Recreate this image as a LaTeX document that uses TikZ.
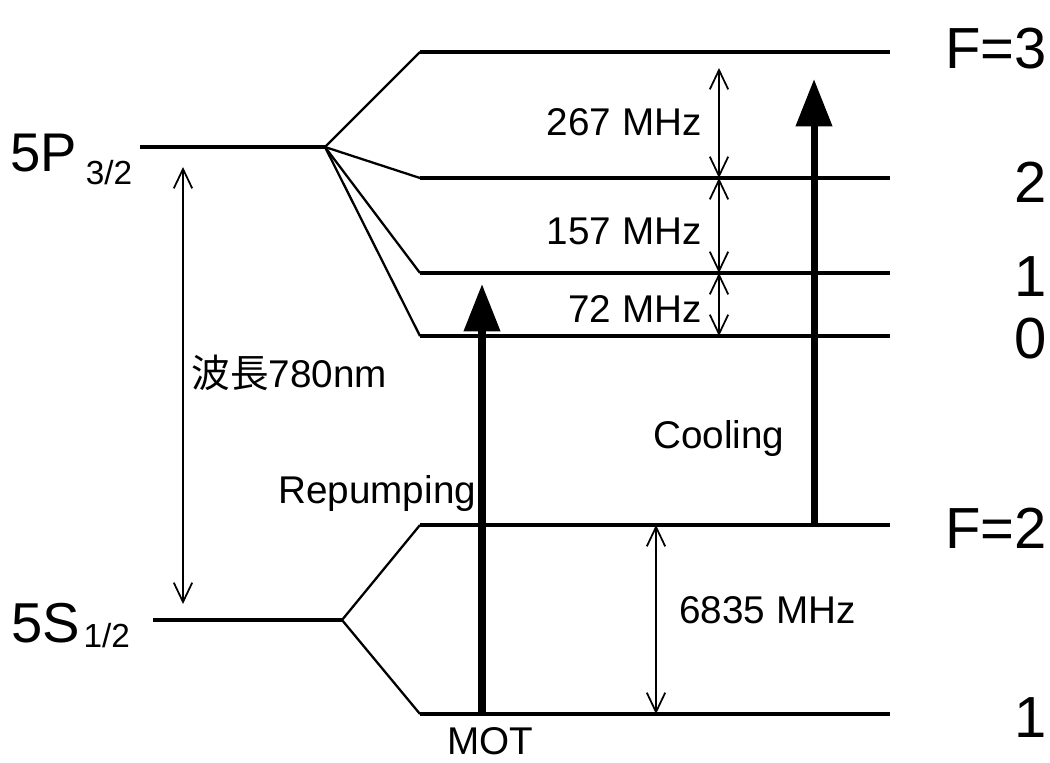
\documentclass[tikz,border=0pt]{standalone}
\usepackage{fontspec}
\setmainfont{Liberation Sans}
\newfontfamily\cjk{Noto Sans CJK JP}
\usetikzlibrary{arrows.meta}
\begin{document}
\begin{tikzpicture}[x=0.02cm,y=-0.02cm,
  level/.style={line width=2.6pt},
  fan/.style={line width=1.3pt},
  gap/.style={line width=1pt,{Straight Barb[length=11pt,width=10.5pt]}-{Straight Barb[length=11pt,width=10.5pt]}},
  laser/.style={line width=4pt,-{Triangle[length=27pt,width=20pt]}},
  big/.style={font=\fontsize{33}{36}\selectfont, inner sep=0},
  mid/.style={font=\fontsize{22}{26}\selectfont, inner sep=0},
]
\useasboundingbox (0,0) rectangle (1050,762);
% coordinates of levels
\coordinate (Pa) at (140,147); \coordinate (Pb) at (325,147);
\coordinate (Sa) at (153,620); \coordinate (Sb) at (342,620);
\coordinate (E3a) at (420,52);  \coordinate (E3b) at (890,52);
\coordinate (E2a) at (420,178); \coordinate (E2b) at (890,178);
\coordinate (E1a) at (420,273); \coordinate (E1b) at (890,273);
\coordinate (E0a) at (420,336); \coordinate (E0b) at (890,336);
\coordinate (G2a) at (420,525); \coordinate (G2b) at (890,525);
\coordinate (G1a) at (420,714); \coordinate (G1b) at (890,714);
% levels
\draw[level] (Pa) -- (Pb);
\draw[level] (Sa) -- (Sb);
\draw[level] (E3a) -- (E3b);
\draw[level] (E2a) -- (E2b);
\draw[level] (E1a) -- (E1b);
\draw[level] (E0a) -- (E0b);
\draw[level] (G2a) -- (G2b);
\draw[level] (G1a) -- (G1b);
% fans
\draw[fan] (Pb) -- (E3a);
\draw[fan] (Pb) -- (E2a);
\draw[fan] (Pb) -- (E1a);
\draw[fan] (Pb) -- (E0a);
\draw[fan] (Sb) -- (G2a);
\draw[fan] (Sb) -- (G1a);
% gaps
\coordinate (w1) at (183,167); \coordinate (w2) at (183,604);
\draw[gap] (w1) -- (w2);
\coordinate (h3) at (719,68); \coordinate (h2) at (719,178);
\coordinate (h1) at (719,273); \coordinate (h0) at (719,336);
\draw[gap] (h3) -- (h2);
\draw[gap] (h2) -- (h1);
\draw[gap] (h1) -- (h0);
\coordinate (g2) at (656,525); \coordinate (g1) at (656,714);
\draw[gap] (g2) -- (g1);
% lasers
\coordinate (r0) at (482,714); \coordinate (r1) at (482,284);
\draw[laser] (r0) -- (r1);
\coordinate (c0) at (814,525); \coordinate (c1) at (814,79);
\draw[laser] (c0) -- (c1);
% labels
\node[big, anchor=base east] (lF3) at (1047,68) {F=3};
\node[big, anchor=base east] (lF2u) at (1047,202) {2};
\node[big, anchor=base east] (lF1u) at (1047,296) {1};
\node[big, anchor=base east] (lF0u) at (1047,358) {0};
\node[big, anchor=base east] (lF2) at (1047,548) {F=2};
\node[big, anchor=base east] (lF1) at (1047,737) {1};
\node[inner sep=0, anchor=base west] (l5P) at (10,171) {\fontsize{31}{34}\selectfont 5P\hspace{5pt}\raisebox{-7.5pt}{\fontsize{19}{20}\selectfont 3/2}};
\node[inner sep=0, anchor=base west] (l5S) at (11,642) {\fontsize{32}{35}\selectfont 5S\hspace{2pt}\raisebox{-3.4pt}{\fontsize{19}{20}\selectfont 1/2}};
\node[mid, anchor=base east] (l267) at (702,135) {267 MHz};
\node[mid, anchor=base east] (l157) at (702,244) {157 MHz};
\node[mid, anchor=base east] (l72) at (702,322) {72 MHz};
\node[mid, anchor=base west] (l6835) at (679,623) {6835 MHz};
\node[mid, anchor=base west] (lcool) at (653,448) {Cooling};
\node[mid, anchor=base west] (lrep) at (278,503) {Repumping};
\node[mid, anchor=base west] (lmot) at (447,754) {MOT};
\node[mid, anchor=base west] (lwave) at (191,387) {{\cjk 波長}780nm};
\end{tikzpicture}
\end{document}
